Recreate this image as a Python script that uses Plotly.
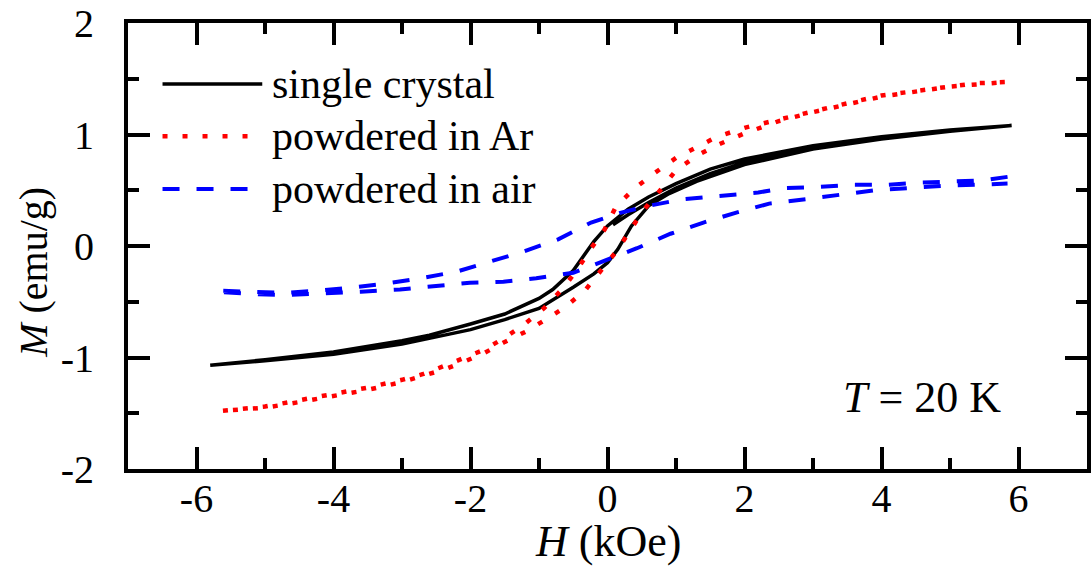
import plotly.graph_objects as go

# ---------------- data ----------------
# single crystal: virgin curve, descending branch, ascending branch
sc_virgin_H = [0.08, 0.3, 0.6, 1.0, 1.5, 2.0, 3.0, 4.0, 5.0, 5.9]
sc_virgin_M = [0.19, 0.28, 0.39, 0.52, 0.65, 0.75, 0.88, 0.97, 1.03, 1.08]
sc_desc_H = [5.9, 5.0, 4.0, 3.0, 2.0, 1.5, 1.0, 0.6, 0.3, 0.0, -0.2, -0.5, -0.8, -1.0,
             -1.5, -2.0, -2.6, -3.0, -4.0, -5.0, -5.8]
sc_desc_M = [1.08, 1.04, 0.98, 0.90, 0.78, 0.69, 0.56, 0.44, 0.33, 0.18, 0.04, -0.22, -0.39,
             -0.47, -0.61, -0.70, -0.80, -0.85, -0.95, -1.02, -1.07]
sc_asc_H = [-5.8, -5.0, -4.0, -3.0, -2.0, -1.5, -1.0, -0.5, -0.2, 0.0, 0.15, 0.35, 0.6, 0.9,
            1.3, 2.0, 3.0, 4.0, 5.0, 5.9]
sc_asc_M = [-1.07, -1.03, -0.97, -0.88, -0.75, -0.66, -0.56, -0.37, -0.25, -0.15, -0.03, 0.18,
            0.36, 0.47, 0.58, 0.73, 0.87, 0.96, 1.03, 1.08]

# powdered in Ar
ar_desc_H = [5.8, 5.4, 5.0, 4.5, 4.0, 3.5, 3.0, 2.5, 2.0, 1.6, 1.3, 1.0, 0.7, 0.4, 0.12, -0.04,
             -0.25, -0.43, -0.65, -0.93, -1.23, -1.52, -1.8, -2.1, -2.4, -2.7, -3.0, -3.5,
             -4.0, -4.5, -5.0, -5.65]
ar_desc_M = [1.47, 1.46, 1.43, 1.39, 1.35, 1.28, 1.21, 1.14, 1.06, 0.98, 0.89, 0.79, 0.66, 0.52,
             0.35, 0.15, -0.03, -0.20, -0.38, -0.56, -0.71, -0.83, -0.93, -1.01, -1.08, -1.15,
             -1.20, -1.27, -1.33, -1.39, -1.44, -1.48]
ar_asc_H = [-5.65, -5.0, -4.5, -4.0, -3.5, -3.0, -2.4, -2.1, -1.8, -1.5, -1.2, -0.93, -0.62,
            -0.33, -0.1, 0.14, 0.32, 0.51, 0.77, 1.0, 1.33, 1.62, 2.0, 2.5, 3.0, 4.0, 5.0, 5.8]
ar_asc_M = [-1.48, -1.45, -1.40, -1.35, -1.29, -1.22, -1.11, -1.04, -0.96, -0.86, -0.77, -0.67,
            -0.55, -0.40, -0.22, -0.04, 0.13, 0.31, 0.50, 0.68, 0.82, 0.91, 1.01, 1.12, 1.20,
            1.34, 1.43, 1.47]

# powdered in air
air_desc_H = [5.84, 5.5, 5.1, 4.6, 4.1, 3.6, 3.1, 2.6, 2.2, 1.7, 1.1, 0.6, 0.2, -0.24, -0.72,
              -1.23, -1.72, -2.2, -2.74, -3.26, -3.7, -4.2, -4.7, -5.2, -5.72]
air_desc_M = [0.62, 0.59, 0.58, 0.57, 0.55, 0.55, 0.53, 0.52, 0.48, 0.45, 0.42, 0.36, 0.30, 0.21,
              0.06, -0.05, -0.14, -0.23, -0.29, -0.34, -0.37, -0.40, -0.42, -0.41, -0.40]
air_asc_H = [-5.72, -5.2, -4.7, -4.2, -3.6, -3.03, -2.54, -2.01, -1.52, -1.04, -0.5, -0.07,
             0.43, 0.92, 1.4, 1.88, 2.36, 2.9, 3.4, 3.9, 4.4, 4.9, 5.4, 5.84]
air_asc_M = [-0.41, -0.43, -0.44, -0.43, -0.41, -0.39, -0.36, -0.33, -0.32, -0.29, -0.24, -0.14,
             -0.02, 0.11, 0.21, 0.30, 0.38, 0.42, 0.46, 0.50, 0.52, 0.54, 0.55, 0.56]

series_names = ["single crystal", "powdered in Ar", "powdered in air"]
x_tickvals = [-6, -4, -2, 0, 2, 4, 6]
x_ticktext = ["-6", "-4", "-2", "0", "2", "4", "6"]
y_tickvals = [-2, -1, 0, 1, 2]
y_ticktext = ["-2", "-1", "0", "1", "2"]
x_title = "<i>H</i> (kOe)"
y_title = "<i>M</i> (emu/g)"
note_text = "<i>T</i> = 20 K"

FONT = "Liberation Serif"
BLACK_LINE = dict(color="black", width=3.5)
RED_LINE = dict(color="#ff0000", width=4.5, dash="5px,15px")
BLUE_LINE = dict(color="#0000ff", width=4, dash="17px,17px")

fig = go.Figure()
fig.add_trace(go.Scatter(x=sc_virgin_H + sc_desc_H + sc_asc_H,
                         y=sc_virgin_M + sc_desc_M + sc_asc_M,
                         mode="lines", line=BLACK_LINE, name=series_names[0]))
fig.add_trace(go.Scatter(x=ar_desc_H + ar_asc_H, y=ar_desc_M + ar_asc_M,
                         mode="lines", line=RED_LINE, name=series_names[1]))
fig.add_trace(go.Scatter(x=air_desc_H + air_asc_H, y=air_desc_M + air_asc_M,
                         mode="lines", line=BLUE_LINE, name=series_names[2]))

# manual legend (long sample lines as in the reference)
legend_y = [0.863, 0.746, 0.628]
legend_lines = [BLACK_LINE, RED_LINE, BLUE_LINE]
for name, ly, ln in zip(series_names, legend_y, legend_lines):
    fig.add_shape(type="line", xref="paper", yref="paper", x0=0.036, x1=0.140, y0=ly, y1=ly,
                  line=ln)
    fig.add_annotation(xref="paper", yref="paper", x=0.148, y=ly, text=name, showarrow=False,
                       xanchor="left", yanchor="middle", font=dict(family=FONT, size=42, color="black"))

fig.add_annotation(xref="x", yref="y", x=5.78, y=-1.36, text=note_text, showarrow=False,
                   xanchor="right", yanchor="middle", font=dict(family=FONT, size=44, color="black"))

# axis titles placed as annotations to match the reference position
fig.add_annotation(xref="paper", yref="paper", x=0.5, y=-0.162, text=x_title, showarrow=False,
                   xanchor="center", yanchor="middle", font=dict(family=FONT, size=44, color="black"))
fig.add_annotation(xref="paper", yref="paper", x=-0.098, y=0.44, text=y_title, showarrow=False,
                   textangle=-90, xanchor="center", yanchor="middle",
                   font=dict(family=FONT, size=40, color="black"))

axis_common = dict(showline=True, linecolor="black", linewidth=4, mirror="allticks",
                   ticks="inside", ticklen=22, tickwidth=4, tickcolor="black",
                   showgrid=False, zeroline=False,
                   tickfont=dict(family=FONT, size=40, color="black"))

fig.update_xaxes(range=[-7, 7], tickvals=x_tickvals, ticktext=x_ticktext,
                 minor=dict(ticks="inside", ticklen=11, tickwidth=4, tickcolor="black", dtick=1,
                            tick0=0, showgrid=False),
                 ticklabelstandoff=-9,
                 **axis_common)
fig.update_yaxes(range=[-2, 2], tickvals=y_tickvals, ticktext=y_ticktext,
                 minor=dict(ticks="inside", ticklen=11, tickwidth=4, tickcolor="black", dtick=0.5,
                            tick0=0, showgrid=False),
                 ticklabelstandoff=22,
                 **axis_common)

fig.update_layout(width=1091, height=566, showlegend=False,
                  margin=dict(l=128, r=0, t=23, b=97),
                  paper_bgcolor="white", plot_bgcolor="white",
                  font=dict(family=FONT, size=40, color="black"))

fig.write_html("out.html", config={"displayModeBar": False},
               post_script="document.body.style.margin='0';document.body.style.padding='0';"
                           "document.body.style.overflow='hidden';")
